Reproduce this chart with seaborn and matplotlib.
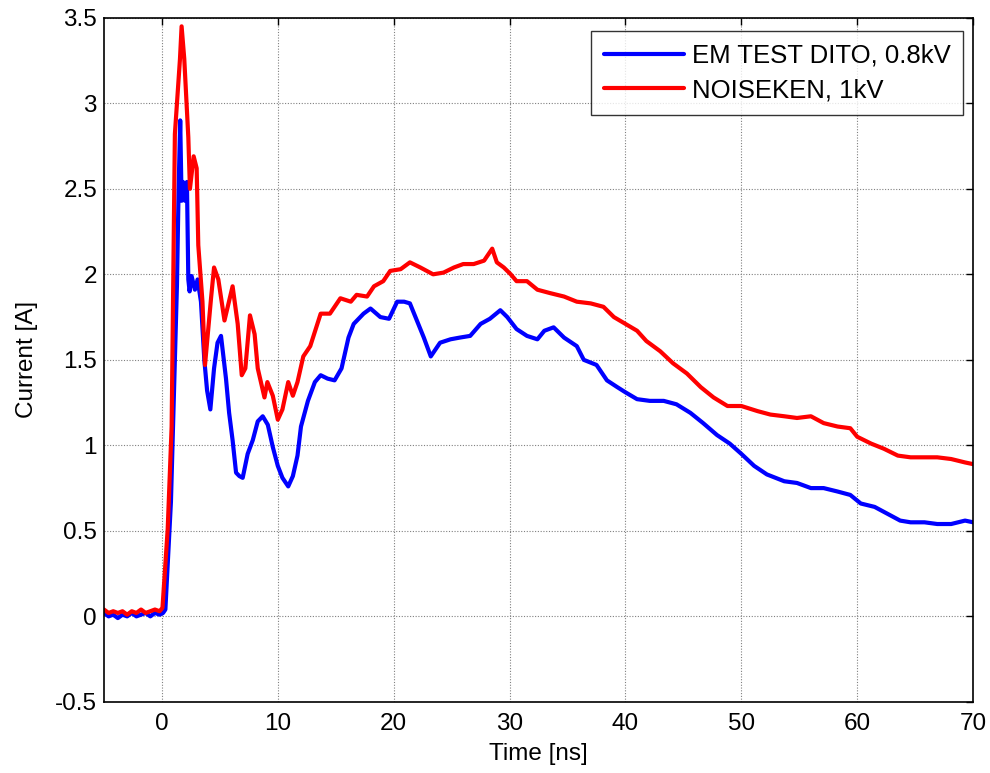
import numpy as np
import pandas as pd
import matplotlib
matplotlib.use("Agg")
import matplotlib.pyplot as plt
import seaborn as sns

series_names = ["EM TEST DITO, 0.8kV", "NOISEKEN, 1kV"]

blue_t = [-5, -4.6, -4.2, -3.8, -3.4, -3.0, -2.6, -2.2, -1.8, -1.4, -1.0, -0.6, -0.2, 0.1, 0.3,
          0.78, 1.12, 1.3, 1.44, 1.58, 1.7, 1.82, 1.99, 2.16, 2.28, 2.39, 2.56, 2.85, 3.08, 3.37,
          3.66, 3.9, 4.18, 4.5, 4.8, 5.1, 5.53, 5.8, 6.1, 6.4, 6.69, 6.97, 7.4, 7.84, 8.27, 8.7,
          9.14, 9.57, 10.0, 10.4, 10.9, 11.3, 11.7, 12.0, 12.6, 13.2, 13.7, 14.3, 14.9, 15.5,
          16.1, 16.55, 17.4, 18.0, 18.85, 19.6, 20.3, 20.9, 21.4, 22.0, 22.6, 23.2, 24.0, 24.9,
          25.7, 26.6, 27.5, 28.3, 29.2, 29.8, 30.6, 31.5, 32.4, 33.0, 33.8, 34.7, 35.8, 36.4,
          37.5, 38.4, 39.3, 40.0, 41.0, 42.1, 43.3, 44.4, 45.6, 46.7, 47.9, 49.0, 50.0, 51.1,
          52.2, 53.7, 54.8, 56.0, 57.1, 58.3, 59.4, 60.3, 61.5, 62.6, 63.7, 64.6, 65.8, 66.9,
          68.1, 69.3, 70.0]
blue_v = [0.02, 0.0, 0.01, -0.01, 0.01, 0.0, 0.02, 0.0, 0.01, 0.02, 0.0, 0.02, 0.01, 0.02, 0.04,
          0.67, 1.50, 1.94, 2.49, 2.90, 2.43, 2.54, 2.43, 2.54, 1.97, 1.90, 1.99, 1.91, 1.97, 1.84,
          1.50, 1.32, 1.21, 1.45, 1.60, 1.64, 1.39, 1.19, 1.03, 0.84, 0.82, 0.81, 0.95, 1.03, 1.14, 1.17,
          1.12, 0.99, 0.88, 0.81, 0.76, 0.82, 0.94, 1.11, 1.26, 1.37, 1.41, 1.39, 1.38, 1.45,
          1.63, 1.71, 1.77, 1.80, 1.75, 1.74, 1.84, 1.84, 1.83, 1.73, 1.63, 1.52, 1.60, 1.62,
          1.63, 1.64, 1.71, 1.74, 1.79, 1.75, 1.68, 1.64, 1.62, 1.67, 1.69, 1.63, 1.58, 1.50,
          1.47, 1.38, 1.34, 1.31, 1.27, 1.26, 1.26, 1.24, 1.19, 1.13, 1.06, 1.01, 0.95, 0.88,
          0.83, 0.79, 0.78, 0.75, 0.75, 0.73, 0.71, 0.66, 0.64, 0.60, 0.56, 0.55, 0.55, 0.54,
          0.54, 0.56, 0.55]

red_t = [-5, -4.6, -4.2, -3.8, -3.4, -3.0, -2.6, -2.2, -1.8, -1.4, -1.0, -0.6, -0.2, 0.05,
         0.5, 0.84, 1.12, 1.56, 1.7, 1.93, 2.28, 2.42, 2.74, 3.0, 3.14, 3.5, 3.72, 4.24, 4.5,
         4.87, 5.4, 5.68, 6.1, 6.54, 6.89, 7.2, 7.6, 8.0, 8.27, 8.85, 9.1, 9.57, 10.0, 10.4,
         10.9, 11.3, 11.7, 12.2, 12.8, 13.7, 14.5, 15.4, 16.3, 16.8, 17.7, 18.3, 19.1, 19.7,
         20.6, 21.4, 22.3, 23.4, 24.3, 25.2, 26.0, 26.9, 27.8, 28.5, 28.9, 29.5, 30.1, 30.6,
         31.5, 32.4, 33.5, 34.7, 35.8, 37.0, 38.1, 39.0, 40.0, 41.0, 41.8, 43.0, 44.1, 45.3,
         46.5, 47.6, 48.8, 50.0, 51.4, 52.5, 53.7, 54.8, 56.0, 57.1, 58.3, 59.4, 60.0, 61.2,
         62.3, 63.5, 64.6, 65.8, 66.9, 68.1, 69.3, 70.0]
red_v = [0.04, 0.02, 0.03, 0.02, 0.03, 0.01, 0.03, 0.02, 0.04, 0.02, 0.03, 0.04, 0.03, 0.05,
         0.51, 1.11, 2.82, 3.26, 3.45, 3.26, 2.80, 2.50, 2.69, 2.62, 2.17, 1.84, 1.47, 1.86, 2.04,
         1.97, 1.73, 1.81, 1.93, 1.71, 1.41, 1.45, 1.76, 1.65, 1.45, 1.28, 1.37, 1.29, 1.15, 1.21,
         1.37, 1.29, 1.37, 1.52, 1.58, 1.77, 1.77, 1.86, 1.84, 1.88, 1.87, 1.93, 1.96, 2.02,
         2.03, 2.07, 2.04, 2.00, 2.01, 2.04, 2.06, 2.06, 2.08, 2.15, 2.07, 2.04, 2.00, 1.96,
         1.96, 1.91, 1.89, 1.87, 1.84, 1.83, 1.81, 1.75, 1.71, 1.67, 1.61, 1.55, 1.48, 1.42,
         1.34, 1.28, 1.23, 1.23, 1.20, 1.18, 1.17, 1.16, 1.17, 1.13, 1.11, 1.10, 1.05, 1.01,
         0.98, 0.94, 0.93, 0.93, 0.93, 0.92, 0.90, 0.89]

x_ticks = [0, 10, 20, 30, 40, 50, 60, 70]
y_ticks = [-0.5, 0, 0.5, 1, 1.5, 2, 2.5, 3, 3.5]
y_tick_labels = ["-0.5", "0", "0.5", "1", "1.5", "2", "2.5", "3", "3.5"]

df = pd.concat([
    pd.DataFrame({"t": blue_t, "v": blue_v, "s": series_names[0]}),
    pd.DataFrame({"t": red_t, "v": red_v, "s": series_names[1]}),
], ignore_index=True)

sns.set_style("white")
plt.rcParams["font.family"] = ["Liberation Sans", "DejaVu Sans"]
plt.rcParams["text.color"] = "black"
plt.rcParams["axes.labelcolor"] = "black"

FS = 17.5

fig = plt.figure(figsize=(9.9, 7.73), dpi=100)
ax = fig.add_axes([0.105, 0.092, 0.878, 0.885])

sns.lineplot(data=df, x="t", y="v", hue="s", palette=["#0000ff", "#ff0000"],
             estimator=None, sort=False, linewidth=3.0, ax=ax)

ax.set_xlim(-5, 70)
ax.set_ylim(-0.5, 3.5)
ax.set_xticks(x_ticks)
ax.set_yticks(y_ticks)
ax.set_yticklabels(y_tick_labels)
ax.grid(True, color="#808080", linestyle=(0, (1, 1.5)), linewidth=0.8)
ax.tick_params(direction="in", top=True, right=True, length=5, width=1,
               labelsize=FS, colors="black", pad=5)
ax.tick_params(axis="x", pad=8)
for sp in ax.spines.values():
    sp.set_color("black")
    sp.set_linewidth(1.2)
ax.set_xlabel("Time [ns]", fontsize=FS, labelpad=6)
ax.set_ylabel("Current [A]", fontsize=FS, labelpad=12)

leg = ax.legend(loc="upper right", fontsize=18.5, frameon=True, fancybox=False,
                edgecolor="black", handlelength=3.1, handletextpad=0.3,
                borderpad=0.5, labelspacing=0.42, borderaxespad=0.0,
                bbox_to_anchor=(0.9885, 0.981))
leg.get_frame().set_linewidth(1.0)
leg.set_title(None)

fig.savefig("out.png", dpi=100, facecolor="white")
